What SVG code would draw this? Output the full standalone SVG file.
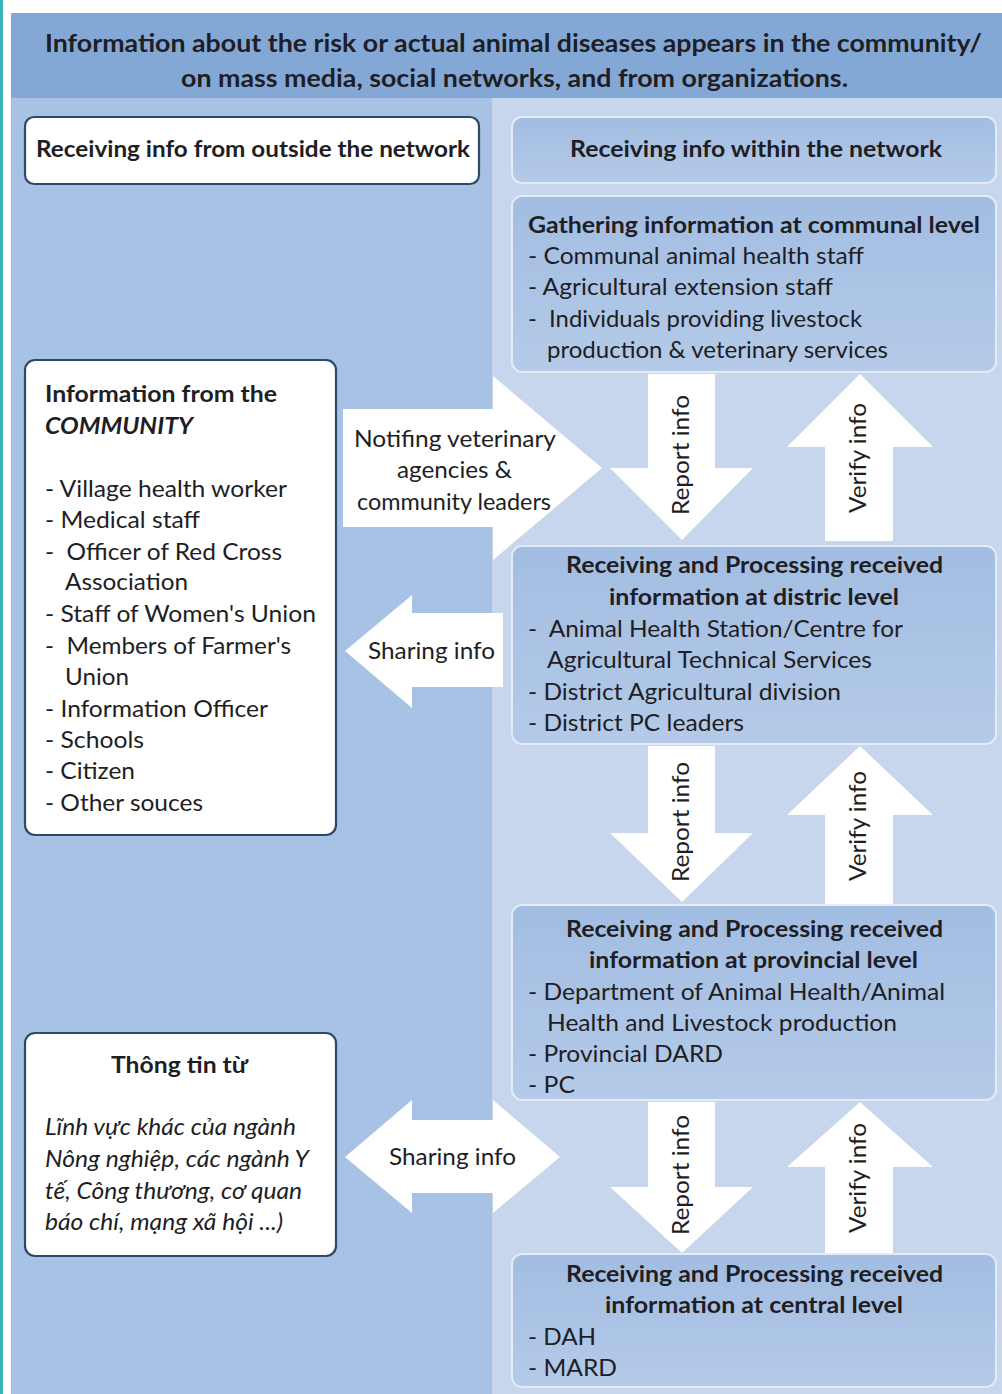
<svg xmlns="http://www.w3.org/2000/svg" width="1002" height="1394" viewBox="0 0 1002 1394">
<defs>
<linearGradient id="boxGrad" x1="0" y1="0" x2="0" y2="1">
<stop offset="0" stop-color="#A2BDE2"/>
<stop offset="1" stop-color="#B4CAE8"/>
</linearGradient>
<style>
text{font-family:Lato,"Liberation Sans",sans-serif;fill:#1E1E24;font-size:23px;}
.b{font-weight:bold;}
.h{font-size:25px;}
.c{text-anchor:middle;}
.i{font-style:italic;}
.white{fill:#FFFFFF;stroke:#2C4A67;stroke-width:2.2;}
.blue{fill:url(#boxGrad);stroke:#E3EBF6;stroke-width:2;}
.arrow{fill:#FFFFFF;stroke:none;}
</style>
</defs>
<rect x="0" y="0" width="1002" height="1394" fill="#FFFFFF"/>
<rect x="0" y="0" width="3" height="1394" fill="#3FB3BC"/>
<rect x="11" y="13" width="991" height="86" fill="#84A8D6"/>
<rect x="11" y="98" width="482" height="1296" fill="#A7C2E4"/>
<rect x="492" y="98" width="510" height="1296" fill="#C7D6EC"/>

<g id="header">
<text class="b h c" x="513.5" y="52" textLength="937" lengthAdjust="spacingAndGlyphs">Information about the risk or actual animal diseases appears in the community/</text>
<text class="b h c" x="514.5" y="87" textLength="667" lengthAdjust="spacingAndGlyphs">on mass media, social networks, and from organizations.</text>
</g>

<g id="outside">
<rect class="white" x="25" y="117" width="454" height="67" rx="9"/>
<text class="b c" x="253" y="157" textLength="434" lengthAdjust="spacingAndGlyphs">Receiving info from outside the network</text>
</g>

<g id="within">
<rect class="blue" x="512" y="117" width="484" height="66" rx="10"/>
<text class="b c" x="756" y="157" textLength="372" lengthAdjust="spacingAndGlyphs">Receiving info within the network</text>
</g>

<g id="communal">
<rect class="blue" x="512" y="196" width="484" height="176" rx="10"/>
<text class="b" x="528" y="233" textLength="452" lengthAdjust="spacingAndGlyphs">Gathering information at communal level</text>
<text x="528" y="264" textLength="336" lengthAdjust="spacingAndGlyphs">- Communal animal health staff</text>
<text x="528" y="295" textLength="305" lengthAdjust="spacingAndGlyphs">- Agricultural extension staff</text>
<text x="528" y="327" textLength="334" lengthAdjust="spacingAndGlyphs">-&#160; Individuals providing livestock</text>
<text x="547" y="358" textLength="341" lengthAdjust="spacingAndGlyphs">production &amp; veterinary services</text>
</g>

<g id="community">
<rect class="white" x="25" y="360" width="311" height="475" rx="10"/>
<text class="b" x="45" y="402" textLength="232" lengthAdjust="spacingAndGlyphs">Information from the</text>
<text class="b i" x="45" y="434" textLength="148" lengthAdjust="spacingAndGlyphs">COMMUNITY</text>
<text x="45" y="497" textLength="242" lengthAdjust="spacingAndGlyphs">- Village health worker</text>
<text x="45" y="528" textLength="155" lengthAdjust="spacingAndGlyphs">- Medical staff</text>
<text x="45" y="560" textLength="237" lengthAdjust="spacingAndGlyphs">-&#160; Officer of Red Cross</text>
<text x="65" y="590" textLength="123" lengthAdjust="spacingAndGlyphs">Association</text>
<text x="45" y="622" textLength="271" lengthAdjust="spacingAndGlyphs">- Staff of Women's Union</text>
<text x="45" y="654" textLength="246" lengthAdjust="spacingAndGlyphs">-&#160; Members of Farmer's</text>
<text x="65" y="685" textLength="64" lengthAdjust="spacingAndGlyphs">Union</text>
<text x="45" y="717" textLength="223" lengthAdjust="spacingAndGlyphs">- Information Officer</text>
<text x="45" y="748" textLength="99" lengthAdjust="spacingAndGlyphs">- Schools</text>
<text x="45" y="779" textLength="90" lengthAdjust="spacingAndGlyphs">- Citizen</text>
<text x="45" y="811" textLength="158" lengthAdjust="spacingAndGlyphs">- Other souces</text>
</g>

<g id="district">
<rect class="blue" x="512" y="546" width="484" height="198" rx="10"/>
<text class="b c" x="754.5" y="573" textLength="377" lengthAdjust="spacingAndGlyphs">Receiving and Processing received</text>
<text class="b c" x="754" y="605" textLength="290" lengthAdjust="spacingAndGlyphs">information at distric level</text>
<text x="528" y="637" textLength="375" lengthAdjust="spacingAndGlyphs">-&#160; Animal Health Station/Centre for</text>
<text x="547" y="668" textLength="325" lengthAdjust="spacingAndGlyphs">Agricultural Technical Services</text>
<text x="528" y="700" textLength="313" lengthAdjust="spacingAndGlyphs">- District Agricultural division</text>
<text x="528" y="731" textLength="216" lengthAdjust="spacingAndGlyphs">- District PC leaders</text>
</g>

<g id="provincial">
<rect class="blue" x="512" y="905" width="484" height="195" rx="10"/>
<text class="b c" x="754.5" y="937" textLength="377" lengthAdjust="spacingAndGlyphs">Receiving and Processing received</text>
<text class="b c" x="753.5" y="968" textLength="329" lengthAdjust="spacingAndGlyphs">information at provincial level</text>
<text x="528" y="1000" textLength="417" lengthAdjust="spacingAndGlyphs">- Department of Animal Health/Animal</text>
<text x="547" y="1031" textLength="350" lengthAdjust="spacingAndGlyphs">Health and Livestock production</text>
<text x="528" y="1062" textLength="195" lengthAdjust="spacingAndGlyphs">- Provincial DARD</text>
<text x="528" y="1093" textLength="47" lengthAdjust="spacingAndGlyphs">- PC</text>
</g>

<g id="central">
<rect class="blue" x="512" y="1254" width="484" height="133" rx="10"/>
<text class="b c" x="754.5" y="1282" textLength="377" lengthAdjust="spacingAndGlyphs">Receiving and Processing received</text>
<text class="b c" x="754" y="1313" textLength="298" lengthAdjust="spacingAndGlyphs">information at central level</text>
<text x="528" y="1345" textLength="68" lengthAdjust="spacingAndGlyphs">- DAH</text>
<text x="528" y="1376" textLength="89" lengthAdjust="spacingAndGlyphs">- MARD</text>
</g>

<g id="other">
<rect class="white" x="25" y="1033" width="311" height="223" rx="10"/>
<text class="b c" x="179.5" y="1073" textLength="137" lengthAdjust="spacingAndGlyphs">Thông tin từ</text>
<text class="i" x="45" y="1135" textLength="251" lengthAdjust="spacingAndGlyphs">Lĩnh vực khác của ngành</text>
<text class="i" x="45" y="1167" textLength="264" lengthAdjust="spacingAndGlyphs">Nông nghiệp, các ngành Y</text>
<text class="i" x="45" y="1199" textLength="257" lengthAdjust="spacingAndGlyphs">tế, Công thương, cơ quan</text>
<text class="i" x="45" y="1230" textLength="238" lengthAdjust="spacingAndGlyphs">báo chí, mạng xã hội ...)</text>
</g>

<g id="connectors">
<path class="arrow" d="M343,409 H493 V376 L602,468 L493,560 V527 H343 Z"/>
<text class="c" x="455" y="447" textLength="202" lengthAdjust="spacingAndGlyphs">Notifing veterinary</text>
<text class="c" x="454.5" y="478" textLength="115" lengthAdjust="spacingAndGlyphs">agencies &amp;</text>
<text class="c" x="454" y="510" textLength="194" lengthAdjust="spacingAndGlyphs">community leaders</text>

<path class="arrow" d="M345,651 L412,595 V613 H503 V687 H412 V708 Z"/>
<text class="c" x="431.5" y="659" textLength="127" lengthAdjust="spacingAndGlyphs">Sharing info</text>

<path class="arrow" d="M345,1157 L412,1100 V1120 H493 V1100 L560,1157 L493,1213 V1193 H412 V1213 Z"/>
<text class="c" x="452.5" y="1165" textLength="127" lengthAdjust="spacingAndGlyphs">Sharing info</text>

<path class="arrow" d="M648,374 H715 V468 H753 L682,540 L610,468 H648 Z"/>
<path class="arrow" d="M860,374 L933,447 H893 V541 H825 V447 H787 Z"/>
<text class="c" transform="translate(689,455) rotate(-90)" textLength="120" lengthAdjust="spacingAndGlyphs">Report info</text>
<text class="c" transform="translate(866,458) rotate(-90)" textLength="110" lengthAdjust="spacingAndGlyphs">Verify info</text>

<path class="arrow" d="M648,746 H715 V833 H753 L682,902 L610,833 H648 Z"/>
<path class="arrow" d="M860,746 L933,815 H893 V904 H825 V815 H787 Z"/>
<text class="c" transform="translate(689,822) rotate(-90)" textLength="120" lengthAdjust="spacingAndGlyphs">Report info</text>
<text class="c" transform="translate(866,826) rotate(-90)" textLength="110" lengthAdjust="spacingAndGlyphs">Verify info</text>

<path class="arrow" d="M648,1102 H715 V1187 H753 L682,1253 L610,1187 H648 Z"/>
<path class="arrow" d="M860,1102 L933,1167 H893 V1253 H825 V1167 H787 Z"/>
<text class="c" transform="translate(689,1175) rotate(-90)" textLength="120" lengthAdjust="spacingAndGlyphs">Report info</text>
<text class="c" transform="translate(866,1178) rotate(-90)" textLength="110" lengthAdjust="spacingAndGlyphs">Verify info</text>
</g>
</svg>
